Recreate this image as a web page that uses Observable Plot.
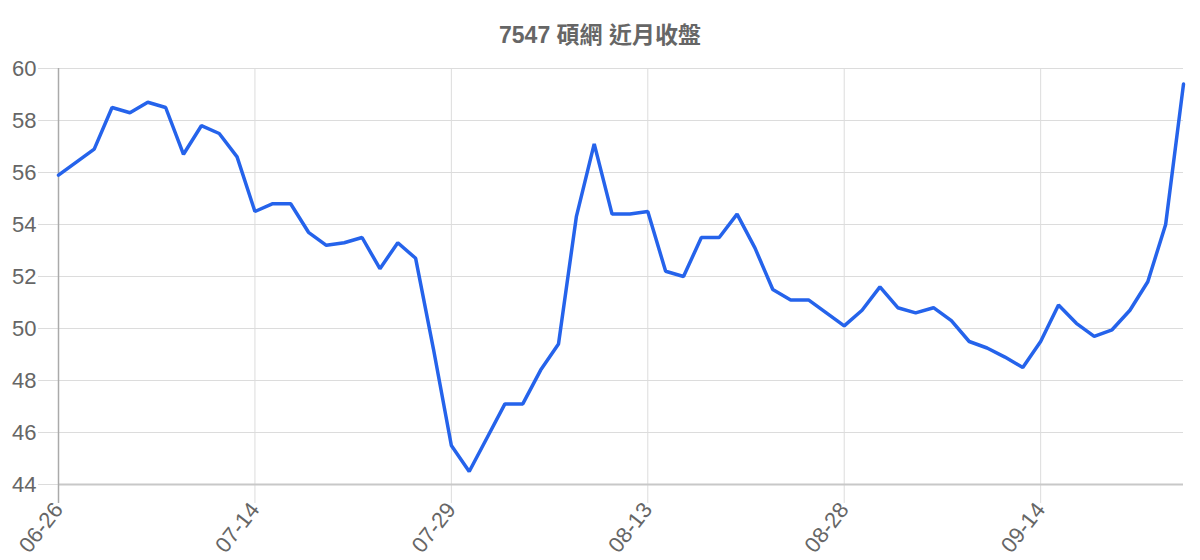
<!DOCTYPE html>
<html><head><meta charset="utf-8">
<script src="https://cdn.jsdelivr.net/npm/d3@7"></script>
<script src="https://cdn.jsdelivr.net/npm/@observablehq/plot@0.6"></script>
<style>
body{margin:0;background:#fff;font-family:"Liberation Sans",Arial,"Noto Sans CJK TC",sans-serif;}
#title{height:42px;padding-top:14px;line-height:42px;text-align:center;font-size:23px;font-weight:bold;color:#666;}
</style></head><body>
<div id="title">7547 碩網 近月收盤</div>
<div id="chart"></div>
<script>
const closes = [
  55.9, 56.4, 56.9, 58.5, 58.3, 58.7, 58.5, 56.7, 57.8, 57.5,
  56.6, 54.5, 54.8, 54.8, 53.7, 53.2, 53.3, 53.5, 52.3, 53.3,
  52.7, 49.2, 45.5, 44.5, 45.8, 47.1, 47.1, 48.4, 49.4, 54.3,
  57.1, 54.4, 54.4, 54.5, 52.2, 52.0, 53.5, 53.5, 54.4, 53.1,
  51.5, 51.1, 51.1, 50.6, 50.1, 50.7, 51.6, 50.8, 50.6, 50.8,
  50.3, 49.5, 49.25, 48.9, 48.5, 49.5, 50.9, 50.2, 49.7, 49.95,
  50.7, 51.8, 54.0, 59.4
];
const tickIndex = [0, 11, 22, 33, 44, 55];
const tickLabels = ["06-26", "07-14", "07-29", "08-13", "08-28", "09-14"];
const yTicks = [44, 46, 48, 50, 52, 54, 56, 58, 60];

const data = closes.map((c, i) => ({i, c}));
const labelOf = new Map(tickIndex.map((t, k) => [t, tickLabels[k]]));
const font = '"Liberation Sans", Arial, "Noto Sans CJK TC", sans-serif';

const chart = Plot.plot({
  width: 1200, height: 504,
  marginTop: 12, marginBottom: 76, marginLeft: 58, marginRight: 17,
  style: {fontFamily: font, fontSize: "22px", color: "#666", background: "#fff"},
  x: {type: "linear", domain: [0, closes.length - 1]},
  y: {domain: [yTicks[0], yTicks[yTicks.length - 1]]},
  marks: [
    Plot.gridY(yTicks, {stroke: "#dcdcdc", strokeOpacity: 1}),
    Plot.gridX(tickIndex, {stroke: "#dcdcdc", strokeOpacity: 1}),
    Plot.axisY(yTicks, {tickSize: 20, tickPadding: 2, stroke: "#dcdcdc", fill: "#666", fontSize: 22, label: null}),
    Plot.axisX(tickIndex, {tickSize: 19, tickPadding: 2, stroke: "#dcdcdc", fill: "#666", fontSize: 22, tickRotate: -52, tickFormat: d => labelOf.get(d), label: null}),
    Plot.ruleY([yTicks[0]], {stroke: "#c8c8c8", strokeWidth: 2}),
    Plot.ruleX([0], {y1: yTicks[yTicks.length - 1], y2: yTicks[0], insetBottom: -19, stroke: "#aaa", strokeWidth: 1.5}),
    Plot.line(data, {x: "i", y: "c", stroke: "#2563eb", strokeWidth: 3.5, strokeLinejoin: "miter"})
  ]
});
document.getElementById("chart").appendChild(chart);
</script>
</body></html>
